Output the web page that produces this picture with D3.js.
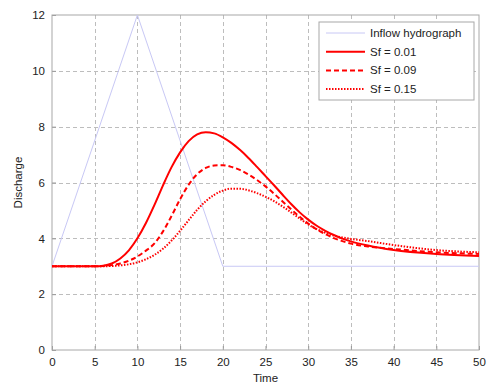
<!DOCTYPE html>
<html>
<head>
<meta charset="utf-8">
<script src="https://cdn.jsdelivr.net/npm/d3@7"></script>
<style>
  body { margin: 0; background: #fff; }
  svg { display: block; font-family: "Liberation Sans", Arial, sans-serif; }
</style>
</head>
<body>
<div class="container"></div>
<script>
// data
const inflowT = [0, 10, 20, 50];
const inflowQ = [3, 12, 3, 3];

const timeSteps = [0, 5, 6, 7, 8, 9, 10, 11, 12, 13, 14, 15, 16, 17, 18, 19, 20, 21, 22, 23, 24, 25,
  26, 27, 28, 29, 30, 31, 32, 33, 34, 35, 37, 40, 45, 50];
const sf001 = [3, 3, 3.02, 3.1, 3.28, 3.57, 4.0, 4.55, 5.2, 5.9, 6.55, 7.08, 7.48, 7.72, 7.8, 7.76, 7.62,
  7.42, 7.17, 6.88, 6.56, 6.23, 5.9, 5.56, 5.23, 4.93, 4.67, 4.45, 4.27, 4.12, 3.99, 3.89, 3.74, 3.58, 3.44, 3.37];
const sf009 = [3, 3, 3.01, 3.04, 3.1, 3.2, 3.35, 3.56, 3.82, 4.25, 4.8, 5.4, 5.92, 6.3, 6.52, 6.61,
  6.62, 6.56, 6.45, 6.29, 6.09, 5.86, 5.6, 5.32, 5.04, 4.77, 4.53, 4.32, 4.15, 4.01, 3.9, 3.81, 3.71, 3.62, 3.5, 3.44];
const sf015 = [3, 3, 3, 3.01, 3.03, 3.07, 3.14, 3.25, 3.41, 3.63, 3.92, 4.27, 4.65, 5.02, 5.33, 5.56, 5.71,
  5.78, 5.78, 5.72, 5.62, 5.49, 5.33, 5.14, 4.93, 4.71, 4.5, 4.33, 4.2, 4.1, 4.03, 3.98, 3.9, 3.76, 3.58, 3.5];

const xTicks = [0, 5, 10, 15, 20, 25, 30, 35, 40, 45, 50];
const yTicks = [0, 2, 4, 6, 8, 10, 12];
const legendLabels = ["Inflow hydrograph", "Sf = 0.01", "Sf = 0.09", "Sf = 0.15"];

const width = 487;
const height = 387;
const margin = { top: 15, right: 8, bottom: 37, left: 52 };

const svg = d3.select(".container").append("svg")
  .attr("width", width)
  .attr("height", height);

const x = d3.scaleLinear()
  .domain([0, 50])
  .range([margin.left, width - margin.right]);

const y = d3.scaleLinear()
  .domain([0, 12])
  .range([height - margin.bottom, margin.top]);

// grid
const grid = svg.append("g")
  .attr("stroke", "#bdbdbd")
  .attr("stroke-width", 1)
  .attr("stroke-dasharray", "4,3");

grid.selectAll("line.gx")
  .data(xTicks.slice(1, -1))
  .enter()
  .append("line")
  .attr("x1", d => Math.round(x(d)) + 0.5)
  .attr("x2", d => Math.round(x(d)) + 0.5)
  .attr("y1", y(12))
  .attr("y2", y(0));

grid.selectAll("line.gy")
  .data(yTicks.slice(1, -1))
  .enter()
  .append("line")
  .attr("x1", x(0))
  .attr("x2", x(50))
  .attr("y1", d => Math.round(y(d)) + 0.5)
  .attr("y2", d => Math.round(y(d)) + 0.5);

// axes
const xAxis = svg.append("g")
  .attr("transform", `translate(0,${y(0)})`)
  .call(d3.axisBottom(x).tickValues(xTicks).tickSize(-4).tickSizeOuter(0).tickPadding(8));

const yAxis = svg.append("g")
  .attr("transform", `translate(${x(0)},0)`)
  .call(d3.axisLeft(y).tickValues(yTicks).tickSize(-4).tickSizeOuter(0).tickPadding(7));

[xAxis, yAxis].forEach(g => {
  g.select(".domain").remove();
  g.selectAll("line").attr("stroke", "#999");
  g.selectAll("text").attr("fill", "#222").style("font-size", "11.5px");
});

// plot frame
svg.append("rect")
  .attr("x", x(0))
  .attr("y", y(12))
  .attr("width", x(50) - x(0))
  .attr("height", y(0) - y(12))
  .attr("fill", "none")
  .attr("stroke", "#a8a8a8")
  .attr("stroke-width", 1);

// lines
const inflowLine = d3.line()
  .x((d, i) => x(inflowT[i]))
  .y(d => y(d));

svg.append("path")
  .datum(inflowQ)
  .attr("fill", "none")
  .attr("stroke", "#c8c8f5")
  .attr("stroke-width", 1)
  .attr("d", inflowLine);

const outflowLine = d3.line()
  .x((d, i) => x(timeSteps[i]))
  .y(d => y(d))
  .curve(d3.curveMonotoneX);

const styles = [
  { data: sf001, dash: null, w: 2 },
  { data: sf009, dash: "5,3", w: 2 },
  { data: sf015, dash: "1.5,1.5", w: 2 }
];

styles.forEach(s => {
  svg.append("path")
    .datum(s.data)
    .attr("fill", "none")
    .attr("stroke", "#ff0000")
    .attr("stroke-width", s.w)
    .attr("stroke-dasharray", s.dash)
    .attr("d", outflowLine);
});

// axis labels
svg.append("text")
  .attr("x", x(25))
  .attr("y", 382)
  .attr("text-anchor", "middle")
  .attr("fill", "#222")
  .style("font-size", "11.5px")
  .text("Time");

svg.append("text")
  .attr("transform", `translate(22,${y(6)}) rotate(-90)`)
  .attr("text-anchor", "middle")
  .attr("fill", "#222")
  .style("font-size", "11.5px")
  .text("Discharge");

// legend
const legend = svg.append("g").attr("transform", "translate(319,22)");

legend.append("rect")
  .attr("width", 155)
  .attr("height", 78)
  .attr("fill", "#fff")
  .attr("stroke", "#a8a8a8");

const legendStyles = [
  { color: "#c8c8f5", dash: null, w: 1 },
  { color: "#ff0000", dash: null, w: 2 },
  { color: "#ff0000", dash: "5,3", w: 2 },
  { color: "#ff0000", dash: "1.5,1.5", w: 2 }
];

legendLabels.forEach((label, i) => {
  const rowY = 11 + i * 18.7;
  legend.append("line")
    .attr("x1", 7)
    .attr("x2", 46)
    .attr("y1", rowY)
    .attr("y2", rowY)
    .attr("stroke", legendStyles[i].color)
    .attr("stroke-width", legendStyles[i].w)
    .attr("stroke-dasharray", legendStyles[i].dash);
  legend.append("text")
    .attr("x", 51)
    .attr("y", rowY + 4)
    .attr("fill", "#222")
    .style("font-size", "11.5px")
    .text(label);
});
</script>
</body>
</html>
